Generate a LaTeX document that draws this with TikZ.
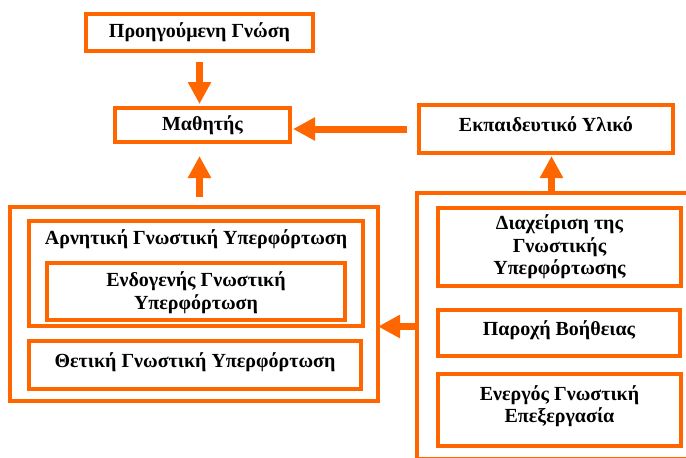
\documentclass[tikz,border=0pt]{standalone}
\usepackage{fontspec}
\setmainfont{Liberation Serif}
\usetikzlibrary{arrows.meta}
\definecolor{ora}{HTML}{FF6600}
\begin{document}
\begin{tikzpicture}[x=1pt,y=-1pt,
  box/.style={draw=ora, line width=3.5pt, fill=none, rectangle, inner sep=0pt, outer sep=0pt},
  txt/.style={font=\bfseries\fontsize{20}{22.5}\selectfont, align=center, inner sep=0pt, text=black},
  barrow/.style={draw=ora, line width=7pt, -{Triangle[width=22pt,length=22pt]}}]
\useasboundingbox (0,0) rectangle (686,458);
\clip (0,0) rectangle (686,458);
% top
\node[box, minimum width=227pt, minimum height=37pt,
  label={[txt]center:{Προηγούμενη Γνώση}}] (prior) at (199.5,32.5) {};
\node[box, minimum width=175pt, minimum height=34pt,
  label={[txt]center:{Μαθητής}}] (math) at (202.5,125) {};
\node[box, minimum width=254pt, minimum height=48pt,
  label={[txt,yshift=5pt]center:{Εκπαιδευτικό Υλικό}}] (ekp) at (546,129) {};
% left group
\node[box, minimum width=368pt, minimum height=194pt] (lbox) at (194,304) {};
\node[box, minimum width=334pt, minimum height=105pt,
  label={[txt,yshift=34pt]center:{Αρνητική Γνωστική Υπερφόρτωση}}] (neg) at (196,273.5) {};
\node[box, minimum width=298pt, minimum height=57pt,
  label={[txt,yshift=-1pt]center:{Ενδογενής Γνωστική\\Υπερφόρτωση}}] (endo) at (196,291.5) {};
\node[box, minimum width=332pt, minimum height=48pt,
  label={[txt,yshift=3pt]center:{Θετική Γνωστική Υπερφόρτωση}}] (pos) at (195,365) {};
% right group
\node[box, minimum width=290pt, minimum height=266pt] (rbox) at (562,326) {};
\node[box, minimum width=243pt, minimum height=78pt,
  label={[txt]center:{Διαχείριση της\\Γνωστικής\\Υπερφόρτωσης}}] (manage) at (559.5,247) {};
\node[box, minimum width=242pt, minimum height=46pt,
  label={[txt,yshift=3pt]center:{Παροχή Βοήθειας}}] (help) at (559,333) {};
\node[box, minimum width=243pt, minimum height=72pt,
  label={[txt,yshift=4pt]center:{Ενεργός Γνωστική\\Επεξεργασία}}] (active) at (559.5,410) {};
% connectors
\coordinate (ru) at (551.5,193);
\coordinate (la) at (417,326.5);
\draw[barrow, shorten <=11pt, shorten >=4pt] (prior.south) -- (prior.south |- math.north);
\draw[barrow, shorten <=12pt, shorten >=3pt] (ekp.west) -- (ekp.west -| math.east);
\draw[barrow, shorten <=10pt, shorten >=14pt] (lbox.north -| prior.south) -- (math.south -| prior.south);
\draw[barrow, shorten >=3pt] (ru |- rbox.north) -- (ru |- ekp.south);
\draw[barrow] (la -| rbox.west) -- (la -| lbox.east);
\end{tikzpicture}
\end{document}
